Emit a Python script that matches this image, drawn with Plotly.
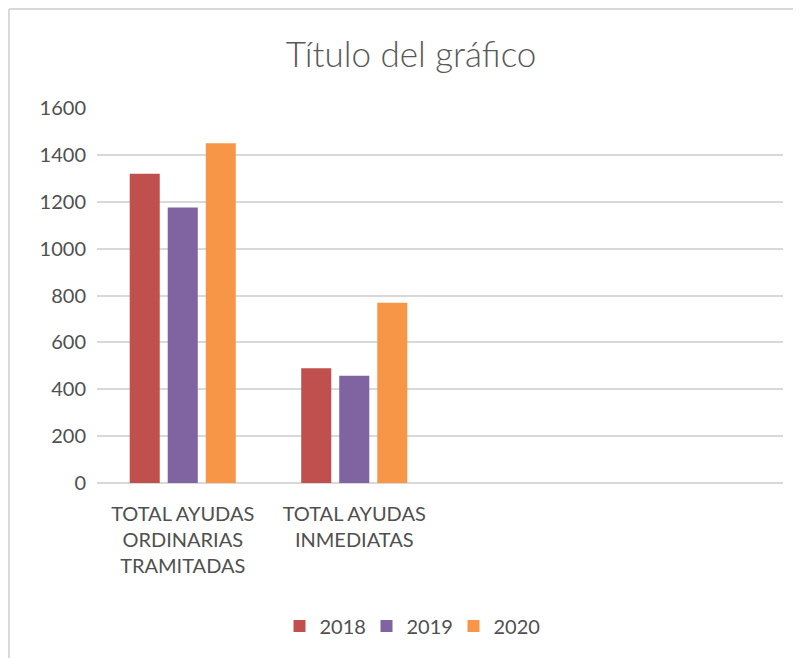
import plotly.graph_objects as go

categories = ["TOTAL AYUDAS<br>ORDINARIAS<br>TRAMITADAS", "TOTAL AYUDAS<br>INMEDIATAS", " ", "  "]
series_names = ["2018", "2019", "2020"]
values_2018 = [1320, 490]
values_2019 = [1176, 458]
values_2020 = [1450, 769]
colors = ["#C0504D", "#8064A2", "#F79646"]
y_ticks = [0, 200, 400, 600, 800, 1000, 1200, 1400, 1600]

# page body has an 8px margin: figure coordinates = screen coordinates - 8
OFF = 8
W, H = 801 - OFF, 658 - OFF
ml, mr, mt, mb = 89, 18, 100, 175
pw, ph = W - ml - mr, H - mt - mb

def px_x(p):
    return (p - OFF - ml) / pw

def px_y(p):
    return (H - mb - (p - OFF)) / ph

fig = go.Figure()
for name, vals, col in zip(series_names, [values_2018, values_2019, values_2020], colors):
    fig.add_trace(go.Bar(x=categories[:len(vals)], y=vals, name=name,
                         marker=dict(color=col, line=dict(width=0))))

font_family = "Lato, Carlito, Calibri, sans-serif"
fig.update_layout(
    width=W, height=H,
    margin=dict(l=ml, r=mr, t=mt, b=mb),
    paper_bgcolor="white", plot_bgcolor="white",
    barmode="group", bargap=0.335, bargroupgap=0.21,
    font=dict(family=font_family, color="#595959", size=20),
    title=dict(text="Título del gráfico", x=(411 - OFF) / W, xref="container", xanchor="center",
               y=1 - (55 - OFF) / H, yref="container", yanchor="middle",
               font=dict(family=font_family, size=35, color="#595959", weight=300)),
    showlegend=True,
    legend=dict(orientation="h", x=px_x(410), xanchor="center", y=px_y(626), yanchor="middle",
                font=dict(size=20, color="#505050"), itemwidth=30,
                entrywidth=42, entrywidthmode="pixels", traceorder="normal"),
    xaxis=dict(type="category", categoryorder="array", categoryarray=categories,
               range=[-0.5, 3.5], showgrid=False, zeroline=False, showline=False,
               ticks="", tickfont=dict(size=20, color="#505050"), ticklabelstandoff=17,
               fixedrange=True),
    yaxis=dict(range=[0, 1600], tickvals=y_ticks, showgrid=True, gridcolor="#D9D9D9",
               gridwidth=1.5, zeroline=True, zerolinecolor="#D9D9D9", zerolinewidth=1.5,
               showline=False, ticks="", tickfont=dict(size=20, color="#505050"),
               ticklabelstandoff=10, fixedrange=True),
    shapes=[
        dict(type="line", xref="paper", yref="paper", x0=px_x(9), x1=px_x(801 + 5),
             y0=px_y(9), y1=px_y(9), line=dict(color="#D9D9D9", width=2)),
        dict(type="line", xref="paper", yref="paper", x0=px_x(9), x1=px_x(9),
             y0=px_y(9), y1=px_y(658 + 5), line=dict(color="#D9D9D9", width=2)),
    ],
)

fig.write_html("out.html")
